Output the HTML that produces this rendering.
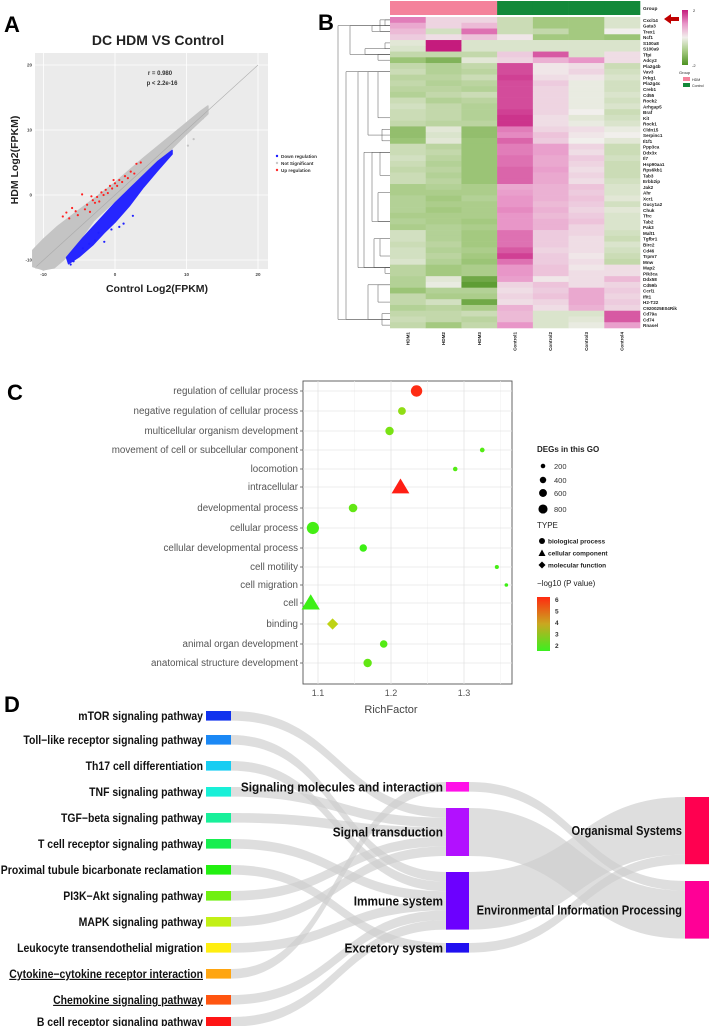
<!DOCTYPE html>
<html><head><meta charset="utf-8">
<style>
html,body{margin:0;padding:0;background:#fff;}
svg{display:block;font-family:"Liberation Sans",sans-serif;}
</style></head>
<body>
<svg id="fig" width="709" height="1026" viewBox="0 0 709 1026" xmlns="http://www.w3.org/2000/svg">
<g id="pA">
  <text x="4" y="32" font-size="22" font-weight="bold">A</text>
  <text x="158" y="45" font-size="14" font-weight="bold" text-anchor="middle" fill="#222">DC HDM VS Control</text>
  <rect x="35" y="53" width="233" height="216" fill="#ebebeb"/>
  <text x="157" y="292" font-size="10.5" font-weight="bold" text-anchor="middle" fill="#222">Control  Log2(FPKM)</text>
  <text transform="translate(18,160) rotate(-90)" font-size="10.5" font-weight="bold" text-anchor="middle" fill="#222">HDM  Log2(FPKM)</text>
  <text x="160" y="75" font-size="6" font-weight="bold" text-anchor="middle" fill="#333">r =  0.980</text>
  <text x="162" y="85" font-size="6" font-weight="bold" text-anchor="middle" fill="#333">p &lt; 2.2e-16</text>
  <g font-size="4.6" font-weight="bold" fill="#333">
    <circle cx="277" cy="156" r="1.2" fill="#1a1aff"/>
    <text x="281" y="158">Down regulation</text>
    <circle cx="277" cy="163" r="1.2" fill="#c8c8c8"/>
    <text x="281" y="165">Not Significant</text>
    <circle cx="277" cy="170" r="1.2" fill="#ff2a2a"/>
    <text x="281" y="172">Up regulation</text>
  </g>
</g>
<g id="pB">
  <text x="318" y="30" font-size="22" font-weight="bold">B</text>
</g>
<g id="pC">
  <text x="7" y="400" font-size="22" font-weight="bold">C</text>
</g>
<g id="pD">
  <text x="4" y="712" font-size="22" font-weight="bold">D</text>
</g>
</svg>
<script>
// ===== Panel A data =====
const aTicks = [-10, 0, 10, 20];
const aGrayCloud = [[-11.5,-8.5],[-10,-6.8],[-8,-4.8],[-5,-2.3],[-2,0.2],[0,1.9],[4,5.7],[8,9.3],[12,12.9],[13,13.7],[13,12.5],[10,9.4],[8,7.2],[4,3.2],[0,-0.9],[-3,-4],[-5,-7],[-7,-9.8],[-8.5,-11.2],[-10,-11.5],[-11.5,-11]];
const aBlueCloud = [[-6.8,-9.6],[-4.5,-6.6],[-2,-3.6],[0,-1.2],[3,2],[6,5.2],[8,6.9],[8,6.3],[6,3.8],[4,1.2],[2,-1.7],[0,-4.2],[-1.5,-5.8],[-3,-7.6],[-5,-9.5],[-6.5,-10.6]];
const aGrayOut = [[10.2,7.6],[11,8.6],[12.3,11.8],[-10.5,-10.2],[-9.8,-8.1],[-8.5,-11],[-10,-11.5],[-9.2,-7.2],[-11,-9.5]];
const aBlueOut = [[-6.2,-10.7],[-5.8,-10.2],[-1.5,-7.2],[-2.3,-5.8],[-4.5,-8.2],[1.2,-4.4],[2.5,-3.2],[-3.6,-7.5],[-0.5,-5.3],[-2.8,-7.0],[0.6,-4.9]];
const aRed = [[-7.3,-3.3],[-6.8,-2.7],[-6.4,-3.6],[-5.5,-2.5],[-5.2,-3.1],[-4.6,0.1],[-4.2,-2.2],[-3.9,-1.5],[-3.5,-2.6],[-3.1,-0.8],[-2.8,-1.2],[-2.5,-0.3],[-2.2,-1.0],[-1.9,0.4],[-1.6,0.0],[-1.3,0.8],[-1.0,0.3],[-0.7,1.4],[-0.4,1.0],[0.0,1.8],[0.3,1.4],[0.6,2.3],[1.0,2.0],[1.4,2.9],[1.8,2.6],[2.2,3.6],[2.7,3.3],[3.0,4.8],[3.6,5.0],[-6,-2.0],[-3.3,-0.2],[-0.2,2.3]];
// ===== Panel B data =====
const bSamples = ['HDM1','HDM2','HDM3','Control1','Control2','Control3','Control4'];
const bGenes = ['Cxcl14','Gata3','Trex1','Ncf1','S100a8','S100a9','Tfpi','Adcy2','Pla2g4b','Vav3','Prkg1','Pla2g4c','Creb1','Cd55','Rock2','Arhgap5','Braf','Kit','Rock1','Cldn15','Serpinc1','Il1f1','Ppp3ca','Ddx3x','Il7','Hsp90aa1','Rps6kb1','Tab3','Erbb2ip','Jak2','Ahr','Xcr1','Gucy1a2','Chuk','Tfrc','Tab2','Pak3','Malt1','Tgfbr1','Birc2','Cd46','Trpm7','Mnw','Map2','Pik3ca','Ddx58','Cd59b','Ccrl1','Ifit1','H2-T22','C920025E04Rik','Cd79a','Cd74','Rnasel'];
const bValues = [
[1.2,0.3,0.3,-0.5,-1.0,-1.0,-0.3],[0.8,0.3,0.6,-0.5,-1.0,-1.0,-0.3],[0.6,-0.4,1.3,-0.5,-0.6,-1.0,0.0],[0.4,0.2,0.5,0.1,-1.0,-1.0,-1.1],
[-0.2,2.0,-0.3,-0.3,-0.3,-0.3,-0.3],[-0.3,2.0,-0.3,-0.3,-0.3,-0.3,-0.3],[-0.6,-0.6,-0.6,0.4,1.5,-0.3,0.2],[-1.1,-1.4,-0.2,0.3,0.7,1.0,0.2],
[-0.6,-0.8,-0.6,1.6,0.1,0.2,-0.5],[-0.5,-0.8,-0.7,1.6,0.1,0.3,-0.4],[-0.7,-0.7,-0.5,1.7,0.2,0.1,-0.3],[-0.6,-0.8,-0.7,1.6,0.4,-0.1,-0.4],
[-0.7,-0.7,-0.8,1.6,0.3,-0.1,-0.4],[-0.8,-0.6,-0.5,1.6,0.3,-0.1,-0.3],[-0.5,-0.8,-0.7,1.6,0.3,-0.1,-0.4],[-0.4,-0.6,-0.8,1.6,0.3,-0.1,-0.3],
[-0.5,-0.6,-0.8,1.7,0.3,0.0,-0.5],[-0.5,-0.6,-0.8,1.8,0.2,-0.2,-0.4],[-0.6,-0.7,-0.7,1.8,0.2,-0.1,-0.3],
[-1.2,-0.2,-1.2,1.2,0.3,0.2,-0.1],[-1.2,-0.3,-1.2,1.1,0.5,0.1,0.0],[-1.1,-0.2,-1.1,1.4,0.4,0.0,-0.2],
[-0.5,-0.7,-1.1,1.2,0.9,0.3,-0.5],[-0.5,-0.6,-1.1,1.2,0.9,0.2,-0.5],[-0.4,-0.7,-1.1,1.3,0.8,0.4,-0.4],[-0.5,-0.8,-1.1,1.3,0.8,0.3,-0.5],
[-0.6,-0.7,-1.1,1.4,0.9,0.2,-0.5],[-0.5,-0.8,-1.1,1.4,0.8,0.3,-0.5],[-0.5,-0.7,-1.1,1.4,0.8,0.2,-0.4],
[-0.9,-0.8,-0.9,0.8,0.7,0.5,-0.3],[-0.9,-0.9,-0.9,0.9,0.7,0.4,-0.3],[-0.8,-1.0,-0.8,1.0,0.7,0.5,-0.2],[-0.8,-0.9,-0.9,1.0,0.6,0.4,-0.4],
[-0.8,-1.0,-0.9,1.1,0.7,0.3,-0.2],[-0.9,-0.9,-0.9,1.0,0.6,0.4,-0.3],[-0.8,-0.9,-1.0,1.0,0.7,0.5,-0.3],[-0.9,-0.8,-0.9,1.0,0.7,0.3,-0.3],
[-0.4,-0.8,-1.0,1.3,0.4,0.3,-0.4],[-0.4,-0.8,-1.0,1.3,0.4,0.2,-0.5],[-0.5,-0.7,-1.0,1.3,0.4,0.2,-0.3],[-0.4,-0.8,-0.9,1.5,0.3,0.2,-0.4],
[-0.4,-0.7,-1.0,1.7,0.4,0.1,-0.5],[-0.3,-0.8,-1.1,1.3,0.4,0.2,-0.6],
[-0.7,-1.0,-0.9,1.0,0.5,0.1,0.2],[-0.7,-1.0,-0.9,1.0,0.5,0.2,0.2],
[-0.8,-0.2,-1.6,0.9,0.1,0.2,0.6],[-0.8,-0.1,-1.8,0.3,0.5,0.2,0.3],[-1.1,-0.8,-0.8,0.2,0.4,0.8,0.4],[-0.6,-0.9,-0.9,0.3,0.5,0.8,0.3],
[-0.6,-0.4,-1.6,0.2,0.3,0.8,0.4],[-0.8,-0.7,-0.9,0.7,0.2,0.7,0.3],[-0.6,-0.6,-0.5,0.6,-0.3,-0.3,1.5],[-0.5,-0.6,-0.7,0.6,-0.3,-0.2,1.5],[-0.6,-1.0,-0.6,1.0,-0.3,-0.1,0.9]
];
// ===== Panel C data =====
const cTerms = ['regulation of cellular process','negative regulation of cellular process','multicellular organism development','movement of cell or subcellular component','locomotion','intracellular','developmental process','cellular process','cellular developmental process','cell motility','cell migration','cell','binding','animal organ development','anatomical structure development'];
const cRich = [1.235,1.215,1.198,1.325,1.288,1.213,1.148,1.093,1.162,1.345,1.358,1.09,1.12,1.19,1.168];
const cCount = [700,330,380,120,110,850,400,800,300,90,70,900,520,310,380];
const cLogP = [6.0,2.6,2.3,1.8,1.8,6.2,2.0,1.6,1.5,1.6,1.5,1.5,3.2,1.8,2.0];
const cType = ['bp','bp','bp','bp','bp','cc','bp','bp','bp','bp','bp','cc','mf','bp','bp'];
const cXTicks = [1.1,1.2,1.3];
const cSizeLegend = [200,400,600,800];
const cColorTicks = [6,5,4,3,2];
// ===== Panel D data =====
const dPathways = ['mTOR signaling pathway','Toll\u2212like receptor signaling pathway','Th17 cell differentiation','TNF signaling pathway','TGF\u2212beta signaling pathway','T cell receptor signaling pathway','Proximal tubule bicarbonate reclamation','PI3K\u2212Akt signaling pathway','MAPK signaling pathway','Leukocyte transendothelial migration','Cytokine\u2212cytokine receptor interaction','Chemokine signaling pathway','B cell receptor signaling pathway'];
const dPathCat = [1,2,2,1,1,2,3,1,1,2,0,2,2];
const dPathValue = [1,1,1,1,1,1,1,1,1,1,1,1,1];
const dCats = ['Signaling molecules and interaction','Signal transduction','Immune system','Excretory system'];
const dCatClass = [1,1,0,0];
const dClasses = ['Organismal Systems','Environmental Information Processing'];

const NS='http://www.w3.org/2000/svg';
function mk(parent,tag,attrs,txt){const e=document.createElementNS(NS,tag);for(const k in attrs)e.setAttribute(k,attrs[k]);if(txt!==undefined)e.textContent=txt;parent.appendChild(e);return e;}

// ---------- Panel A ----------
(function(){
  const g=document.getElementById('pA');
  const ax=v=>115+v*7.15, ay=v=>195-v*6.5;
  aTicks.forEach(t=>{
    let l=mk(g,'line',{x1:ax(t),x2:ax(t),y1:53,y2:269,stroke:'#fff','stroke-width':0.8});
    
    
    l=mk(g,'line',{x1:35,x2:268,y1:ay(t),y2:ay(t),stroke:'#fff','stroke-width':0.8});
    
    
    let tx=mk(g,'text',{x:ax(t),y:276,'font-size':4.5,'font-weight':'bold','text-anchor':'middle',fill:'#444'},String(t));
    
    
    tx=mk(g,'text',{x:32,y:ay(t)+1.5,'font-size':4.5,'font-weight':'bold','text-anchor':'end',fill:'#444'},String(t));
    
    
  });
  const pts=a=>a.map(p=>ax(p[0]).toFixed(1)+','+ay(p[1]).toFixed(1)).join(' ');
  let p=mk(g,'polygon',{points:pts(aGrayCloud),fill:'#c4c4c4',stroke:'#c4c4c4','stroke-width':1.5,'stroke-linejoin':'round'});
  
  
  p=mk(g,'polygon',{points:pts(aBlueCloud),fill:'#2626ff',stroke:'#2626ff','stroke-width':1.2,'stroke-linejoin':'round'});
  
  
  let d=mk(g,'line',{x1:ax(-11),y1:ay(-11),x2:ax(20),y2:ay(20),stroke:'#aaa','stroke-width':0.6});
  
  
  aGrayOut.forEach(q=>{const c=mk(g,'circle',{cx:ax(q[0]),cy:ay(q[1]),r:1.1,fill:'#c4c4c4'});
    
    });
  aBlueOut.forEach(q=>{const c=mk(g,'circle',{cx:ax(q[0]),cy:ay(q[1]),r:1.1,fill:'#1f1fff'});
    
    });
  aRed.forEach(q=>{const c=mk(g,'circle',{cx:ax(q[0]),cy:ay(q[1]),r:1.1,fill:'#ff2020'});
    
    });
})();

// ---------- Panel B ----------
(function(){
  const g=document.getElementById('pB');
  const x0=390, cw=250/7, y0=17, rh=311/bGenes.length;
  const stops=[[-2,[77,146,33]],[-1,[164,201,128]],[0,[241,239,236]],[1,[232,150,200]],[2,[197,27,125]]];
  function col(v){v=Math.max(-2,Math.min(2,v));for(let i=0;i<4;i++){const a=stops[i],b=stops[i+1];if(v<=b[0]){const t=(v-a[0])/(b[0]-a[0]);return 'rgb('+a[1].map((c,k)=>Math.round(c+(b[1][k]-c)*t)).join(',')+')';}}}
  bSamples.forEach((s,j)=>{const r=mk(g,'rect',{x:x0+j*cw,y:1,width:cw+0.3,height:14,fill:j<3?'#f4829b':'#13893a'});
    
    });
  let t=mk(g,'text',{x:643,y:10,'font-size':4.8,'font-weight':'bold',fill:'#222'},'Group');
  
  
  bValues.forEach((row,i)=>{row.forEach((v,j)=>{
    const r=mk(g,'rect',{x:x0+j*cw,y:y0+i*rh,width:cw+0.3,height:rh+0.3,fill:col(v)});
    
    });
    const tx=mk(g,'text',{x:643,y:y0+i*rh+rh*0.85,'font-size':4.6,'font-weight':'bold',fill:'#222'},bGenes[i]);
    
    
  });
  bSamples.forEach((s,j)=>{const tx=mk(g,'text',{transform:'translate('+(x0+j*cw+cw/2+1.5)+',332) rotate(-90)','font-size':4.6,'font-weight':'bold','text-anchor':'end',fill:'#222'},s);
    
    });
  const yr=i=>y0+i*rh+rh/2;
  const clusters=[[0,1,385],[0,2,380],[0,3,372],[4,5,385],[6,7,378],[4,7,365],[0,7,350],[8,18,378],[19,21,382],[8,21,368],[22,28,380],[29,36,378],[22,36,372],[37,42,380],[43,44,385],[37,44,374],[22,44,364],[8,44,358],[45,50,378],[51,53,382],[45,53,368],[8,53,346],[0,53,338]];
  clusters.forEach(c=>{
    const ya=(c[1]-c[0]<3)?yr(c[0]):(yr(c[0])+yr(Math.min(c[0]+2,c[1])))/2;
    const yb=(c[1]-c[0]<3)?yr(c[1]):(yr(Math.max(c[1]-2,c[0]))+yr(c[1]))/2;
    const pth=mk(g,'path',{d:'M390,'+ya+' H'+c[2]+' V'+yb+' H390',fill:'none',stroke:'#555','stroke-width':0.5});
    
    
  });
  const defs=mk(g,'defs',{});
  const lg=mk(defs,'linearGradient',{id:'hmg',x1:0,y1:0,x2:0,y2:1});
  stops.slice().reverse().forEach((s,i)=>mk(lg,'stop',{offset:i/4,'stop-color':'rgb('+s[1].join(',')+')'}));
  let cb=mk(g,'rect',{x:682,y:10,width:6,height:55,fill:'url(#hmg)'});
  
  
  t=mk(g,'text',{x:693,y:12,'font-size':4,fill:'#222'},'2');
  
  
  t=mk(g,'text',{x:692,y:67,'font-size':4,fill:'#222'},'-2');
  
  
  t=mk(g,'text',{x:679,y:74,'font-size':4,fill:'#222'},'Group');
  
  
  let r=mk(g,'rect',{x:683,y:77,width:7,height:4,fill:'#f4829b'});
  
  
  t=mk(g,'text',{x:692,y:81,'font-size':3.6,fill:'#222'},'HDM');
  
  
  r=mk(g,'rect',{x:683,y:83,width:7,height:4,fill:'#13893a'});
  
  
  t=mk(g,'text',{x:692,y:87,'font-size':3.6,fill:'#222'},'Control');
  
  
  const ar=mk(g,'path',{d:'M664,19 l7,-5 v3 h8 v4 h-8 v3 z',fill:'#c00000'});
  
  
})();

// ---------- Panel C ----------
(function(){
  const g=document.getElementById('pC');
  const L=303,R=512,T=381,B=684;
  const cx=v=>318+(v-1.1)*730;
  const rowY=[391,411,431,450,469,487,508,528,548,567,585,603,624,644,663];
  const rad=n=>Math.sqrt(n)*0.215;
  function pcol(v){const t=Math.max(0,Math.min(1,(v-1.5)/4.7));const r=t<0.5?Math.round(60+t*2*180):Math.round(240+(t-0.5)*2*15);const gg=t<0.5?Math.round(240-t*2*40):Math.round(200-(t-0.5)*2*170);return 'rgb('+r+','+gg+',20)';}
  let fr=mk(g,'rect',{x:L,y:T,width:R-L,height:B-T,fill:'#fff',stroke:'#555','stroke-width':0.9});
  
  
  [1.15,1.25,1.35].forEach(v=>{const l=mk(g,'line',{x1:cx(v),x2:cx(v),y1:T,y2:B,stroke:'#f2f2f2','stroke-width':0.6});
    
    });
  cXTicks.forEach(v=>{const l=mk(g,'line',{x1:cx(v),x2:cx(v),y1:T,y2:B,stroke:'#e3e3e3','stroke-width':0.8});
    
    
    const tx=mk(g,'text',{x:cx(v),y:696,'font-size':9,'text-anchor':'middle',fill:'#555'},v.toFixed(1));
    
    });
  cTerms.forEach((term,i)=>{
    const y=rowY[i];
    const l=mk(g,'line',{x1:L,x2:R,y1:y,y2:y,stroke:'#e6e6e6','stroke-width':0.8});
    
    
    const tk=mk(g,'line',{x1:L-3,x2:L,y1:y,y2:y,stroke:'#555','stroke-width':0.8});
    
    
    const tx=mk(g,'text',{x:L-5,y:y+3,'font-size':9.8,'text-anchor':'end',fill:'#555'},term);
    
    
    const X=cx(cRich[i]), r=rad(cCount[i]), c=pcol(cLogP[i]);
    let m;
    if(cType[i]==='cc'){const s=r*1.35;m=mk(g,'polygon',{points:X+','+(y-s)+' '+(X-s*1.05)+','+(y+s*0.75)+' '+(X+s*1.05)+','+(y+s*0.75),fill:c});}
    else if(cType[i]==='mf'){const s=r*1.15;m=mk(g,'polygon',{points:X+','+(y-s)+' '+(X+s)+','+y+' '+X+','+(y+s)+' '+(X-s)+','+y,fill:c});}
    else m=mk(g,'circle',{cx:X,cy:y,r:r,fill:c});
    
    
  });
  let t=mk(g,'text',{x:cx(1.2),y:713,'font-size':11,'text-anchor':'middle',fill:'#444'},'RichFactor');
  
  
  t=mk(g,'text',{x:537,y:452,'font-size':8,'font-weight':'bold',fill:'#222'},'DEGs in this GO');
  
  
  const sy=[466,480,493,509];
  cSizeLegend.forEach((n,i)=>{const c=mk(g,'circle',{cx:543,cy:sy[i],r:rad(n)*0.75,fill:'#000'});
    
    
    const tx=mk(g,'text',{x:554,y:sy[i]+3,'font-size':7.5,fill:'#333'},String(n));
    
    });
  t=mk(g,'text',{x:537,y:528,'font-size':8,fill:'#222'},'TYPE');
  
  
  const types=[['biological process',541,'c'],['cellular component',553,'t'],['molecular function',565,'d']];
  types.forEach(tp=>{let m;const y=tp[1];
    if(tp[2]==='c')m=mk(g,'circle',{cx:542,cy:y,r:3,fill:'#000'});
    else if(tp[2]==='t')m=mk(g,'polygon',{points:'542,'+(y-3.5)+' 538.5,'+(y+3)+' 545.5,'+(y+3),fill:'#000'});
    else m=mk(g,'polygon',{points:'542,'+(y-3.5)+' 545.5,'+y+' 542,'+(y+3.5)+' 538.5,'+y,fill:'#000'});
    
    
    const tx=mk(g,'text',{x:548,y:y+2.5,'font-size':6.5,'font-weight':'bold',fill:'#222'},tp[0]);
    
    });
  t=mk(g,'text',{x:537,y:586,'font-size':8,fill:'#222'},'\u2212log10 (P value)');
  
  
  const defs=mk(g,'defs',{});
  const lg=mk(defs,'linearGradient',{id:'pg',x1:0,y1:0,x2:0,y2:1});
  mk(lg,'stop',{offset:0,'stop-color':'#ff2a10'});
  mk(lg,'stop',{offset:0.5,'stop-color':'#c9a820'});
  mk(lg,'stop',{offset:1,'stop-color':'#3cf020'});
  let cb=mk(g,'rect',{x:537,y:597,width:13,height:54,fill:'url(#pg)'});
  
  
  cColorTicks.forEach(v=>{const y=651-(v-1.5)/4.7*54;
    const tx=mk(g,'text',{x:555,y:y+2.5,'font-size':6.5,'font-weight':'bold',fill:'#333'},String(v));
    
    });
})();

// ---------- Panel D ----------
(function(){
  const g=document.getElementById('pD');
  const unit=9.6;
  const pathColors=['#1133ee','#1b88f5','#18cdf2','#18f0d8','#18f09a','#18ee50','#22f010','#70f010','#c2f015','#ffee10','#ffa510','#ff5510','#ff1515'];
  const catColors=['#ff10e8','#b210ff','#6c00ff','#2010f0'];
  const clsColors=['#ff0050','#ff0096'];
  const pTop=[711,735,761,787,813,839,865,891,917,943,969,995,1017];
  const cTop=[782,808,872,943];
  const clTop=[797,881];
  const xL=206,wL=25,xM=446,wM=23,xR=685,wR=24;
  const catVal=dCats.map((c,k)=>dPathValue.reduce((s,v,i)=>s+(dPathCat[i]===k?v:0),0));
  const clsVal=dClasses.map((c,k)=>catVal.reduce((s,v,i)=>s+(dCatClass[i]===k?v:0),0));
  const linkG=mk(g,'g',{});
  
  
  function ribbon(x1,y1,x2,y2,h){const mx=(x1+x2)/2;return 'M'+x1+','+y1+' C'+mx+','+y1+' '+mx+','+y2+' '+x2+','+y2+' V'+(y2+h)+' C'+mx+','+(y2+h)+' '+mx+','+(y1+h)+' '+x1+','+(y1+h)+' Z';}
  const catOff=dCats.map(()=>0);
  dPathways.forEach((p,i)=>{const k=dPathCat[i],h=dPathValue[i]*unit;
    const pth=mk(linkG,'path',{d:ribbon(xL+wL,pTop[i],xM,cTop[k]+catOff[k],h),fill:'#cccccc','fill-opacity':0.65});
    
    
    catOff[k]+=h;});
  const clOff=dClasses.map(()=>0);
  dCats.forEach((c,k)=>{const j=dCatClass[k],h=catVal[k]*unit;
    const pth=mk(linkG,'path',{d:ribbon(xM+wM,cTop[k],xR,clTop[j]+clOff[j],h),fill:'#cccccc','fill-opacity':0.65});
    
    
    clOff[j]+=h;});
  dPathways.forEach((p,i)=>{
    const r=mk(g,'rect',{x:xL,y:pTop[i],width:wL,height:dPathValue[i]*unit,fill:pathColors[i]});
    
    
    const tx=mk(g,'text',{transform:'translate(203,'+(pTop[i]+dPathValue[i]*unit/2+4)+') scale(0.91,1)','font-size':11.5,'font-weight':'bold','text-anchor':'end',fill:'#111','text-decoration':(i===10||i===11)?'underline':'none'},p);
    
    
  });
  dCats.forEach((c,k)=>{
    const h=catVal[k]*unit;
    const r=mk(g,'rect',{x:xM,y:cTop[k],width:wM,height:h,fill:catColors[k]});
    
    
    const tx=mk(g,'text',{transform:'translate(443,'+(cTop[k]+h/2+4.5)+') scale(0.91,1)','font-size':13,'font-weight':'bold','text-anchor':'end',fill:'#111'},c);
    
    
  });
  dClasses.forEach((c,k)=>{
    const h=clsVal[k]*unit;
    const r=mk(g,'rect',{x:xR,y:clTop[k],width:wR,height:h,fill:clsColors[k]});
    
    
    const tx=mk(g,'text',{transform:'translate(682,'+(clTop[k]+h/2+4.5)+') scale(0.86,1)','font-size':13,'font-weight':'bold','text-anchor':'end',fill:'#111'},c);
    
    
  });
})();
</script>
</body></html>
